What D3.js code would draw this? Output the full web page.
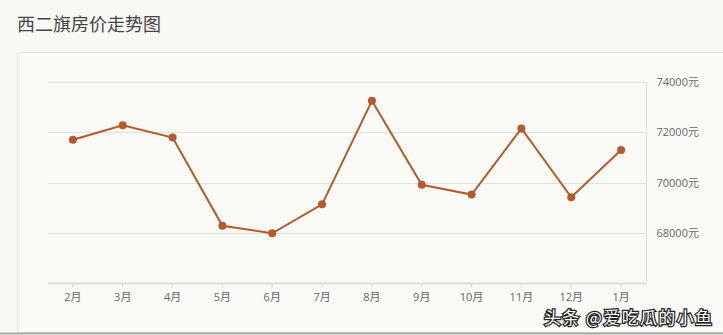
<!DOCTYPE html>
<html><head><meta charset="utf-8">
<script src="https://cdn.jsdelivr.net/npm/d3@7"></script>
<style>
html,body{margin:0;padding:0;background:#f8f8f4;}
svg{display:block;}
</style></head>
<body>
<script>
const title = "西二旗房价走势图";
const months = ["2月","3月","4月","5月","6月","7月","8月","9月","10月","11月","12月","1月"];
const prices = [71700,72280,71790,68280,67980,69130,73250,69910,69520,72150,69410,71290];
const yTicks = [68000,70000,72000,74000];
const watermark = "头条 @爱吃瓜的小鱼";

const W = 723, H = 335;
const svg = d3.select("body").append("svg").attr("width", W).attr("height", H);
svg.append("rect").attr("width", W).attr("height", H).attr("fill", "#f8f8f4");

svg.append("text").attr("x", 17).attr("y", 31)
  .attr("font-family", "'Noto Sans CJK SC', sans-serif").attr("font-size", 18)
  .attr("fill", "#444").text(title);

// card
svg.append("rect").attr("x", 17.5).attr("y", 52.5).attr("width", 730).attr("height", 280)
  .attr("rx", 3).attr("fill", "#fafaf6").attr("stroke", "#e2e2dc");
svg.append("line").attr("x1", 0).attr("x2", W).attr("y1", 333.5).attr("y2", 333.5)
  .attr("stroke", "#a9a9a6").attr("stroke-width", 2);

const x = d3.scaleBand().domain(months).range([48, 646]);
const y = d3.scaleLinear().domain([66000, 74000]).range([283, 82]);

// grid
svg.append("g").selectAll("line").data(yTicks).join("line")
  .attr("x1", 48).attr("x2", 646)
  .attr("y1", d => Math.round(y(d)) + 0.5).attr("y2", d => Math.round(y(d)) + 0.5)
  .attr("stroke", "#e0e0dc");

// right axis
const ya = svg.append("g").attr("transform", "translate(646.5,0)")
  .call(d3.axisRight(y).tickValues(yTicks).tickSize(0).tickPadding(10).tickFormat(d => d + "元"));
ya.select(".domain").attr("stroke", "#e0e0dc").attr("d", "M0,82V283");
ya.selectAll("text").attr("font-family", "'Open Sans', 'Noto Sans CJK SC', sans-serif")
  .attr("font-size", 11).attr("fill", "#666");

// bottom axis
const xa = svg.append("g").attr("transform", "translate(0,283.5)")
  .call(d3.axisBottom(x).tickSize(4).tickPadding(6));
xa.select(".domain").attr("stroke", "#dcdcd8").attr("stroke-width", 2).attr("d", "M48,0H646");
xa.selectAll(".tick line").attr("stroke", "#dcdcd8");
xa.selectAll("text").attr("font-family", "'Open Sans', 'Noto Sans CJK SC', sans-serif")
  .attr("font-size", 11).attr("fill", "#666");

const cx = d => x(d) + x.bandwidth() / 2;
const line = d3.line().x((d, i) => cx(months[i])).y(d => y(d));
const color = "#b75a2b";
svg.append("path").datum(prices).attr("d", line).attr("fill", "none")
  .attr("stroke", color).attr("stroke-width", 2);
svg.append("g").selectAll("circle").data(prices).join("circle")
  .attr("cx", (d, i) => cx(months[i])).attr("cy", d => y(d)).attr("r", 4).attr("fill", color);

// watermark
svg.append("text").attr("x", 544).attr("y", 324)
  .attr("font-family", "'Noto Sans CJK SC', sans-serif").attr("font-size", 17)
  .attr("fill", "#fff").attr("stroke", "#222").attr("stroke-width", 2.5)
  .attr("paint-order", "stroke").attr("textLength", 168).text(watermark);
</script>
</body></html>
